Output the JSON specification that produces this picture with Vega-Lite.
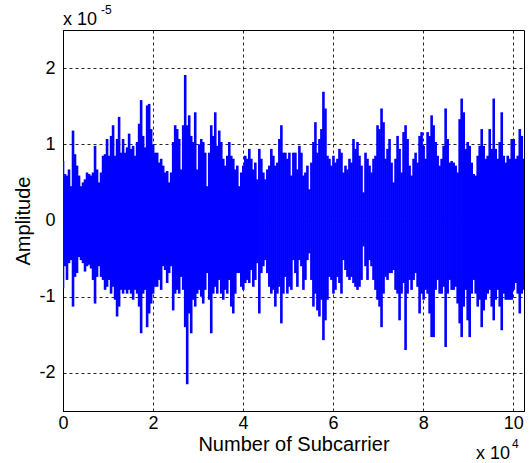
{
"$schema": "https://vega.github.io/schema/vega-lite/v6.json",
"width": 461, "height": 381,
"autosize": "none",
"padding": {"left": 63, "top": 30, "right": 7, "bottom": 52},
"background": "white",
"config": {
 "font": "Liberation Sans",
 "view": {"stroke": "#000", "strokeWidth": 1},
 "axis": {"labelFont": "Liberation Sans", "titleFont": "Liberation Sans", "labelFontSize": 18, "titleFontSize": 20, "titleFontWeight": "normal", "labelColor": "#000", "titleColor": "#000", "domainColor": "#000", "grid": true, "gridColor": "#000", "gridDash": [3, 3], "gridWidth": 1, "gridOpacity": 0.85, "ticks": false}
},
"layer": [
 {
  "data": {"values": [
{"n":0,"hi":0.78,"lo":-0.89},{"n":445,"hi":0.61,"lo":-0.60},{"n":890,"hi":0.59,"lo":-0.78},{"n":1335,"hi":0.67,"lo":-0.56},{"n":1780,"hi":0.45,"lo":-0.52},{"n":2225,"hi":1.18,"lo":-1.13},{"n":2670,"hi":0.87,"lo":-0.74},{"n":3115,"hi":0.72,"lo":-0.69},{"n":3560,"hi":0.59,"lo":-0.48},{"n":4005,"hi":0.45,"lo":-0.52},
{"n":4450,"hi":0.50,"lo":-0.56},{"n":4895,"hi":0.54,"lo":-0.67},{"n":5340,"hi":0.63,"lo":-0.60},{"n":5785,"hi":0.61,"lo":-0.58},{"n":6230,"hi":0.59,"lo":-0.63},{"n":6675,"hi":0.63,"lo":-0.78},{"n":7120,"hi":0.98,"lo":-1.09},{"n":7565,"hi":0.67,"lo":-0.74},{"n":8010,"hi":0.50,"lo":-0.60},{"n":8455,"hi":0.63,"lo":-0.74},
{"n":8900,"hi":0.85,"lo":-0.78},{"n":9345,"hi":0.87,"lo":-0.91},{"n":9790,"hi":1.07,"lo":-0.87},{"n":10235,"hi":0.85,"lo":-0.78},{"n":10680,"hi":1.11,"lo":-0.96},{"n":11125,"hi":1.25,"lo":-0.87},{"n":11570,"hi":0.85,"lo":-1.04},{"n":12015,"hi":1.07,"lo":-1.26},{"n":12460,"hi":1.36,"lo":-1.13},{"n":12905,"hi":0.89,"lo":-0.91},
{"n":13350,"hi":1.07,"lo":-0.96},{"n":13795,"hi":0.89,"lo":-0.91},{"n":14240,"hi":0.96,"lo":-0.96},{"n":14685,"hi":1.14,"lo":-0.91},{"n":15130,"hi":0.94,"lo":-0.96},{"n":15575,"hi":0.98,"lo":-1.04},{"n":16020,"hi":0.85,"lo":-0.91},{"n":16465,"hi":1.03,"lo":-0.96},{"n":16910,"hi":1.27,"lo":-1.13},{"n":17355,"hi":1.58,"lo":-1.48},
{"n":17800,"hi":1.11,"lo":-0.96},{"n":18245,"hi":0.96,"lo":-0.91},{"n":18690,"hi":1.51,"lo":-1.40},{"n":19135,"hi":1.53,"lo":-1.22},{"n":19580,"hi":1.20,"lo":-1.09},{"n":20025,"hi":1.00,"lo":-0.96},{"n":20470,"hi":0.89,"lo":-0.87},
{"n":20915,"hi":0.89,"lo":-0.87},{"n":21360,"hi":0.76,"lo":-0.78},{"n":21805,"hi":0.81,"lo":-0.91},{"n":22250,"hi":0.72,"lo":-0.60},{"n":22695,"hi":0.63,"lo":-0.65},{"n":23140,"hi":0.65,"lo":-0.82},{"n":23585,"hi":0.50,"lo":-0.69},{"n":24030,"hi":0.63,"lo":-0.60},{"n":24475,"hi":1.03,"lo":-1.18},{"n":24920,"hi":1.25,"lo":-0.96},
{"n":25365,"hi":1.20,"lo":-0.91},{"n":25810,"hi":1.07,"lo":-0.96},{"n":26255,"hi":0.67,"lo":-0.74},{"n":26700,"hi":1.25,"lo":-0.91},{"n":27145,"hi":1.91,"lo":-1.40},{"n":27590,"hi":1.25,"lo":-2.15},{"n":28035,"hi":1.38,"lo":-1.22},{"n":28480,"hi":1.11,"lo":-1.48},{"n":28925,"hi":1.03,"lo":-1.04},{"n":29370,"hi":1.42,"lo":-1.13},
{"n":29815,"hi":0.67,"lo":-0.96},{"n":30260,"hi":1.00,"lo":-0.91},{"n":30705,"hi":1.07,"lo":-1.00},{"n":31150,"hi":1.03,"lo":-1.09},{"n":31595,"hi":0.89,"lo":-0.91},{"n":32040,"hi":0.45,"lo":-0.69},{"n":32485,"hi":0.89,"lo":-1.04},{"n":32930,"hi":1.25,"lo":-1.48},{"n":33375,"hi":1.11,"lo":-0.96},{"n":33820,"hi":1.42,"lo":-0.87},
{"n":34265,"hi":0.98,"lo":-0.96},{"n":34710,"hi":1.18,"lo":-0.78},{"n":35155,"hi":1.03,"lo":-0.96},{"n":35600,"hi":0.81,"lo":-1.04},{"n":36045,"hi":0.72,"lo":-0.91},{"n":36490,"hi":0.85,"lo":-0.96},{"n":36935,"hi":1.03,"lo":-0.78},{"n":37380,"hi":0.85,"lo":-1.13},{"n":37825,"hi":0.81,"lo":-1.22},{"n":38270,"hi":0.67,"lo":-0.96},
{"n":38715,"hi":0.72,"lo":-0.69},{"n":39160,"hi":0.45,"lo":-0.69},{"n":39605,"hi":0.63,"lo":-0.87},{"n":40050,"hi":0.72,"lo":-0.91},{"n":40495,"hi":0.85,"lo":-0.82},{"n":40940,"hi":0.81,"lo":-0.78},
{"n":41385,"hi":0.94,"lo":-0.82},{"n":41830,"hi":0.81,"lo":-0.65},{"n":42275,"hi":0.67,"lo":-0.87},{"n":42720,"hi":0.76,"lo":-0.78},{"n":43165,"hi":0.54,"lo":-0.56},{"n":43610,"hi":0.94,"lo":-1.22},{"n":44055,"hi":0.81,"lo":-0.69},{"n":44500,"hi":0.63,"lo":-0.60},{"n":44945,"hi":0.54,"lo":-0.52},{"n":45390,"hi":0.67,"lo":-0.69},
{"n":45835,"hi":0.72,"lo":-0.87},{"n":46280,"hi":0.94,"lo":-0.96},{"n":46725,"hi":0.85,"lo":-0.91},{"n":47170,"hi":0.72,"lo":-1.13},{"n":47615,"hi":0.76,"lo":-0.96},{"n":48060,"hi":1.07,"lo":-0.87},{"n":48505,"hi":1.25,"lo":-1.35},{"n":48950,"hi":0.89,"lo":-0.96},{"n":49395,"hi":0.89,"lo":-0.74},{"n":49840,"hi":0.81,"lo":-0.96},
{"n":50285,"hi":0.89,"lo":-0.87},{"n":50730,"hi":0.59,"lo":-0.91},{"n":51175,"hi":0.89,"lo":-0.52},{"n":51620,"hi":0.89,"lo":-0.69},{"n":52065,"hi":0.67,"lo":-0.87},{"n":52510,"hi":0.98,"lo":-0.52},{"n":52955,"hi":0.89,"lo":-0.60},{"n":53400,"hi":0.59,"lo":-0.91},{"n":53845,"hi":0.63,"lo":-0.78},{"n":54290,"hi":0.72,"lo":-0.52},
{"n":54735,"hi":0.41,"lo":-0.43},{"n":55180,"hi":0.76,"lo":-0.78},{"n":55625,"hi":1.03,"lo":-1.13},{"n":56070,"hi":1.29,"lo":-0.96},{"n":56515,"hi":0.89,"lo":-1.18},{"n":56960,"hi":1.07,"lo":-1.26},{"n":57405,"hi":1.20,"lo":-1.04},{"n":57850,"hi":1.69,"lo":-1.57},{"n":58295,"hi":1.47,"lo":-1.31},{"n":58740,"hi":0.85,"lo":-1.04},
{"n":59185,"hi":0.81,"lo":-0.74},{"n":59630,"hi":0.72,"lo":-0.78},{"n":60075,"hi":0.85,"lo":-0.96},{"n":60520,"hi":0.76,"lo":-0.91},{"n":60965,"hi":0.81,"lo":-0.74},{"n":61410,"hi":0.94,"lo":-0.82},
{"n":61855,"hi":0.89,"lo":-0.96},{"n":62300,"hi":0.63,"lo":-0.52},{"n":62745,"hi":0.72,"lo":-0.65},{"n":63190,"hi":0.67,"lo":-0.74},{"n":63635,"hi":0.81,"lo":-0.78},{"n":64080,"hi":0.76,"lo":-0.74},{"n":64525,"hi":1.07,"lo":-0.82},{"n":64970,"hi":0.94,"lo":-0.87},{"n":65415,"hi":1.03,"lo":-0.91},{"n":65860,"hi":0.85,"lo":-0.87},
{"n":66305,"hi":0.72,"lo":-0.78},{"n":66750,"hi":0.37,"lo":-0.34},{"n":67195,"hi":0.89,"lo":-0.60},{"n":67640,"hi":0.81,"lo":-0.78},{"n":68085,"hi":0.72,"lo":-0.52},{"n":68530,"hi":0.63,"lo":-0.60},{"n":68975,"hi":0.81,"lo":-0.78},{"n":69420,"hi":0.85,"lo":-0.91},{"n":69865,"hi":1.25,"lo":-1.04},{"n":70310,"hi":1.20,"lo":-1.13},
{"n":70755,"hi":1.47,"lo":-1.40},{"n":71200,"hi":1.29,"lo":-0.96},{"n":71645,"hi":0.81,"lo":-0.74},{"n":72090,"hi":0.94,"lo":-0.78},{"n":72535,"hi":1.07,"lo":-0.69},{"n":72980,"hi":0.76,"lo":-0.69},{"n":73425,"hi":0.50,"lo":-0.65},{"n":73870,"hi":0.81,"lo":-0.91},{"n":74315,"hi":1.11,"lo":-0.96},{"n":74760,"hi":0.94,"lo":-1.31},
{"n":75205,"hi":0.63,"lo":-0.96},{"n":75650,"hi":1.16,"lo":-0.82},{"n":76095,"hi":1.25,"lo":-1.70},{"n":76540,"hi":1.07,"lo":-0.96},{"n":76985,"hi":0.72,"lo":-0.78},{"n":77430,"hi":0.59,"lo":-0.91},{"n":77875,"hi":0.81,"lo":-0.78},{"n":78320,"hi":0.89,"lo":-0.69},{"n":78765,"hi":0.76,"lo":-0.87},{"n":79210,"hi":1.11,"lo":-1.22},
{"n":79655,"hi":1.16,"lo":-0.96},{"n":80100,"hi":0.98,"lo":-1.04},{"n":80545,"hi":0.81,"lo":-0.91},{"n":80990,"hi":1.16,"lo":-0.96},{"n":81435,"hi":1.11,"lo":-1.22},{"n":81880,"hi":1.38,"lo":-1.53},
{"n":82325,"hi":1.25,"lo":-1.53},{"n":82770,"hi":1.03,"lo":-0.91},{"n":83215,"hi":0.85,"lo":-0.78},{"n":83660,"hi":0.72,"lo":-0.96},{"n":84105,"hi":0.81,"lo":-0.96},{"n":84550,"hi":0.98,"lo":-0.87},{"n":84995,"hi":1.47,"lo":-1.66},{"n":85440,"hi":1.07,"lo":-0.96},{"n":85885,"hi":0.76,"lo":-0.78},{"n":86330,"hi":0.78,"lo":-0.91},
{"n":86775,"hi":0.76,"lo":-0.91},{"n":87220,"hi":0.72,"lo":-0.87},{"n":87665,"hi":0.63,"lo":-1.09},{"n":88110,"hi":1.33,"lo":-1.35},{"n":88555,"hi":1.60,"lo":-1.53},{"n":89000,"hi":1.42,"lo":-1.13},{"n":89445,"hi":0.94,"lo":-0.91},{"n":89890,"hi":1.03,"lo":-1.31},{"n":90335,"hi":0.98,"lo":-1.53},{"n":90780,"hi":0.76,"lo":-0.96},
{"n":91225,"hi":0.61,"lo":-0.78},{"n":91670,"hi":0.59,"lo":-0.96},{"n":92115,"hi":0.85,"lo":-1.13},{"n":92560,"hi":0.98,"lo":-1.04},{"n":93005,"hi":1.20,"lo":-1.40},{"n":93450,"hi":0.98,"lo":-1.18},{"n":93895,"hi":0.81,"lo":-1.04},{"n":94340,"hi":0.85,"lo":-0.96},{"n":94785,"hi":1.20,"lo":-0.91},{"n":95230,"hi":0.94,"lo":-1.13},
{"n":95675,"hi":1.60,"lo":-1.31},{"n":96120,"hi":0.94,"lo":-1.04},{"n":96565,"hi":0.81,"lo":-0.91},{"n":97010,"hi":1.03,"lo":-1.13},{"n":97455,"hi":1.42,"lo":-1.44},{"n":97900,"hi":0.85,"lo":-0.96},{"n":98345,"hi":0.76,"lo":-1.04},{"n":98790,"hi":0.85,"lo":-1.04},{"n":99235,"hi":0.81,"lo":-1.04},{"n":99680,"hi":1.07,"lo":-1.04},
{"n":100125,"hi":1.07,"lo":-0.91},{"n":100570,"hi":0.81,"lo":-0.82},{"n":101015,"hi":0.85,"lo":-0.96},{"n":101460,"hi":1.20,"lo":-1.22},{"n":101905,"hi":1.11,"lo":-0.96},{"n":102350,"hi":0.81,"lo":-0.91}
  ]},
  "mark": {"type": "rule", "color": "#0000ff", "strokeWidth": 2.6, "clip": true},
  "encoding": {
   "x": {"field": "n", "type": "quantitative", "scale": {"domain": [0, 102400], "nice": false, "zero": false},
         "axis": {"values": [0, 20000, 40000, 60000, 80000, 100000], "labelExpr": "datum.value / 10000", "title": "Number of Subcarrier", "labelPadding": 3, "titlePadding": 2, "labelFlush": false}},
   "y": {"field": "hi", "type": "quantitative", "scale": {"domain": [-2.5, 2.5], "nice": false, "zero": false},
         "axis": {"values": [-2, -1, 0, 1, 2], "labelExpr": "datum.value", "title": "Amplitude", "labelPadding": 8, "titlePadding": 5}},
   "y2": {"field": "lo"}
  }
 },
 {"data": {"values": [{"label": "x 10"}]},
  "mark": {"type": "text", "align": "left", "baseline": "alphabetic", "fontSize": 18, "dy": -5, "color": "#000", "font": "Liberation Sans"},
  "encoding": {"x": {"datum": 0}, "y": {"datum": 2.5}, "text": {"field": "label"}}},
 {"data": {"values": [{"label": "-5"}]},
  "mark": {"type": "text", "align": "left", "baseline": "alphabetic", "fontSize": 12, "dx": 38, "dy": -16, "color": "#000", "font": "Liberation Sans"},
  "encoding": {"x": {"datum": 0}, "y": {"datum": 2.5}, "text": {"field": "label"}}},
 {"data": {"values": [{"label": "x 10"}]},
  "mark": {"type": "text", "align": "right", "baseline": "alphabetic", "fontSize": 18, "dx": -14, "dy": 48, "color": "#000", "font": "Liberation Sans"},
  "encoding": {"x": {"datum": 102400}, "y": {"datum": -2.5}, "text": {"field": "label"}}},
 {"data": {"values": [{"label": "4"}]},
  "mark": {"type": "text", "align": "left", "baseline": "alphabetic", "fontSize": 12, "dx": -12, "dy": 37, "color": "#000", "font": "Liberation Sans"},
  "encoding": {"x": {"datum": 102400}, "y": {"datum": -2.5}, "text": {"field": "label"}}}
]
}
